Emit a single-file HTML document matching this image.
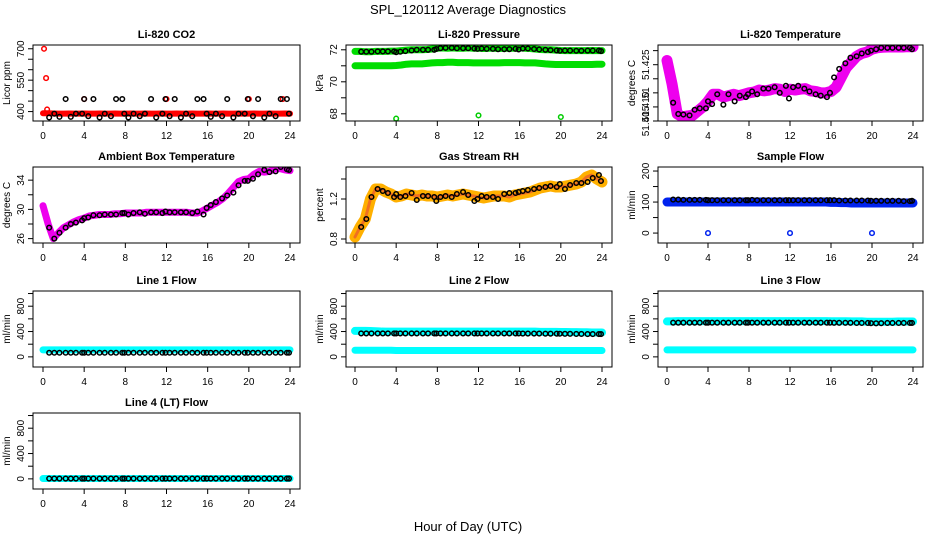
<!DOCTYPE html>
<html><head><meta charset="utf-8"><style>
html,body{margin:0;padding:0;background:#fff}
svg{display:block;font-family:"Liberation Sans",sans-serif}
</style></head><body>
<svg id="c" width="936" height="540" xmlns="http://www.w3.org/2000/svg">
<rect width="936" height="540" fill="#fff"/>
<text x="468" y="14" font-size="13" text-anchor="middle">SPL_120112  Average Diagnostics</text>
<text x="468" y="531" font-size="13" text-anchor="middle">Hour of Day (UTC)</text>
</svg>
<script>
// shared hour arrays
const bandHours=[0,0.5,1,1.5,2,2.5,3,3.5,4,4.5,5,5.5,6,6.5,7,7.5,8,8.5,9,9.5,10,10.5,11,11.5,12,12.5,13,13.5,14,14.5,15,15.5,16,16.5,17,17.5,18,18.5,19,19.5,20,20.5,21,21.5,22,22.5,23,23.5,24];
const blackHours=[0.6,1.1,1.6,2.2,2.7,3.2,3.8,4.0,4.4,4.9,5.5,6.0,6.6,7.1,7.7,7.9,8.3,8.8,9.4,9.9,10.5,11.0,11.6,11.9,12.3,12.8,13.4,13.9,14.5,15.0,15.6,15.9,16.3,16.8,17.4,17.9,18.5,19.0,19.6,19.9,20.4,20.9,21.5,22.0,22.6,23.1,23.7,23.9];
const xTicks=[0,4,8,12,16,20,24];

// CO2
const co2Band=[392,392,391,390,390,391,390,390,391,390,390,391,390,390,391,390,390,391,390,390,391,390,390,391,390,390,391,390,390,391,390,390,391,390,390,391,390,390,391,390,390,391,390,390,391,390,390,391,390];
const co2Black=[372,390,375,460,375,390,390,460,378,460,372,390,378,460,460,390,372,390,378,390,460,372,390,460,378,460,372,390,378,460,460,390,375,390,378,460,372,390,390,460,378,460,372,390,378,460,460,390];
const co2OutH=[0.1,0.3,0.4,4,12,20,23.3];
const co2OutV=[700,560,410,460,460,460,460];
// Pressure
const presUpper=[71.9,71.9,71.88,71.88,71.9,71.9,71.9,71.92,71.92,71.95,71.98,72.0,72.0,72.0,72.02,72.05,72.1,72.12,72.1,72.12,72.1,72.1,72.12,72.1,72.1,72.08,72.1,72.1,72.08,72.1,72.1,72.1,72.12,72.1,72.08,72.05,72.02,72.0,72.0,71.98,71.96,71.95,71.95,71.95,71.95,71.95,71.96,71.95,71.95];
const presLower=[71.0,71.0,71.0,71.0,71.0,71.0,71.0,71.0,71.02,71.05,71.1,71.12,71.12,71.12,71.15,71.18,71.2,71.2,71.22,71.22,71.2,71.2,71.2,71.18,71.18,71.18,71.18,71.18,71.18,71.2,71.2,71.2,71.2,71.18,71.18,71.18,71.15,71.12,71.1,71.08,71.08,71.08,71.08,71.08,71.08,71.08,71.08,71.1,71.1];
const presBlack=[71.88,71.88,71.88,71.9,71.9,71.9,71.9,71.85,71.88,71.92,71.96,72.0,72.0,72.0,72.0,72.05,72.1,72.12,72.12,72.1,72.1,72.1,72.08,72.06,72.08,72.06,72.06,72.04,72.04,72.04,72.06,72.02,72.08,72.08,72.05,72.02,72.0,71.98,71.96,71.94,71.95,71.95,71.94,71.94,71.95,71.95,71.95,71.92];
const presOutH=[4,12,20];
const presOutV=[67.7,67.9,67.8];
// Li-820 temperature
const tempBand=[51.4265,51.418,51.4075,51.4065,51.4068,51.407,51.4085,51.410,51.412,51.4145,51.4145,51.4135,51.414,51.4145,51.414,51.4145,51.415,51.4153,51.416,51.4157,51.416,51.4165,51.4163,51.4155,51.4163,51.416,51.4163,51.4165,51.4157,51.4155,51.415,51.415,51.4155,51.417,51.4205,51.424,51.426,51.428,51.429,51.4295,51.4305,51.431,51.4312,51.4313,51.4313,51.4313,51.4313,51.4314,51.4314];
const tempBlack=[51.4115,51.4075,51.4073,51.407,51.409,51.4095,51.4095,51.412,51.411,51.4145,51.4108,51.4145,51.412,51.414,51.4135,51.4145,51.4155,51.4145,51.4165,51.4165,51.417,51.415,51.4175,51.413,51.417,51.4175,51.4165,51.4155,51.4145,51.414,51.4135,51.415,51.4205,51.4235,51.4255,51.4275,51.428,51.429,51.4295,51.43,51.4305,51.431,51.431,51.431,51.431,51.431,51.431,51.4305];
// Ambient box temperature
const ambBand=[30.5,28,26,26.8,27.5,27.9,28.3,28.6,28.8,29.1,29.2,29.3,29.3,29.3,29.4,29.4,29.5,29.5,29.5,29.5,29.6,29.6,29.6,29.6,29.6,29.6,29.6,29.6,29.6,29.5,29.5,29.8,30.2,30.6,31,31.5,32.2,33,33.8,34.1,34.2,34.8,35.2,35.1,35.2,35.5,35.6,35.4,35.3];
const ambBlack=[27.5,26,26.8,27.5,28,28.2,28.5,28.8,28.9,29.2,29.2,29.3,29.3,29.3,29.5,29.5,29.3,29.5,29.6,29.4,29.6,29.6,29.5,29.7,29.6,29.6,29.6,29.6,29.5,29.7,29.3,30.2,30.6,31,31.5,31.9,32.3,33.3,33.9,33.9,34.2,34.8,35.4,35.1,35.2,35.8,35.5,35.4];
// Gas stream RH
const rhBand=[0.82,0.92,1.0,1.2,1.3,1.3,1.27,1.25,1.22,1.23,1.25,1.24,1.23,1.24,1.23,1.23,1.22,1.23,1.24,1.23,1.24,1.25,1.24,1.23,1.22,1.21,1.22,1.23,1.23,1.23,1.22,1.24,1.25,1.26,1.27,1.29,1.31,1.32,1.33,1.32,1.32,1.33,1.34,1.35,1.37,1.42,1.44,1.4,1.37];
const rhBlack=[0.92,1.0,1.22,1.3,1.28,1.26,1.22,1.25,1.22,1.23,1.26,1.19,1.23,1.23,1.22,1.18,1.22,1.23,1.22,1.25,1.27,1.24,1.18,1.2,1.23,1.22,1.22,1.2,1.25,1.26,1.26,1.27,1.28,1.29,1.3,1.31,1.32,1.33,1.32,1.35,1.3,1.34,1.36,1.36,1.37,1.41,1.44,1.38];
// Sample flow
const sfBand=[100,100,100,100,100,100,100,100,100,100,100,100,100,100,100,100,100,100,100,100,100,100,100,100,100,100,100,100,100,100,100,100,99,99,98,98,97,97,97,97,97,97,97,97,97,97,97,97,97];
const sfBlack=[108,108,107,107,107,107,107,106,106,106,106,106,106,106,106,106,107,106,106,106,106,106,106,106,106,106,106,106,106,106,106,106,106,105,105,105,105,105,105,104,104,104,104,104,104,103,103,104];
const sfOutH=[4,12,20];
const sfOutV=[0,0,0];
// Line flows
const l1Band=[110,110,110,110,110,110,110,110,110,110,110,110,110,110,110,110,110,110,110,110,110,110,110,110,110,110,110,110,110,110,110,110,110,110,110,110,110,110,110,110,110,110,110,110,110,110,110,110,110];
const l1Black=[65,65,65,65,65,65,65,65,65,65,65,65,65,65,65,65,65,65,65,65,65,65,65,65,65,65,65,65,65,65,65,65,65,65,65,65,65,65,65,65,65,65,65,65,65,65,65,65];
const l2Upper=[410,410,410,408,405,400,398,398,398,398,398,398,398,398,398,398,398,398,398,398,398,398,398,398,398,398,398,398,398,398,398,398,398,398,398,398,395,395,395,395,392,392,390,390,388,388,385,385,385];
const l2Lower=[105,105,105,105,105,105,105,105,100,100,100,100,100,100,100,100,100,100,100,100,100,100,100,100,100,100,100,100,100,100,100,100,100,100,100,100,100,100,100,100,100,100,100,100,100,100,100,100,100];
const l2Black=[370,370,370,370,370,370,370,370,370,370,370,370,370,370,370,370,370,370,370,370,370,370,370,370,370,370,370,370,370,370,370,370,368,368,368,368,366,366,366,365,364,364,362,362,360,360,360,360];
const l3Upper=[560,560,565,565,565,565,565,565,565,565,565,565,565,565,565,565,565,565,565,565,565,565,565,565,565,565,565,565,565,565,565,565,562,562,562,562,560,560,560,555,555,555,555,555,555,558,558,558,558];
const l3Lower=[110,110,110,110,110,110,110,110,110,110,110,110,110,110,110,110,110,110,110,110,110,110,110,110,110,110,110,110,110,110,110,110,110,110,110,110,110,110,110,110,110,110,110,110,110,110,110,110,110];
const l3Black=[540,540,540,540,540,540,540,540,540,540,540,540,540,540,540,540,540,540,540,540,540,540,540,540,540,540,540,540,540,540,540,540,538,538,538,538,535,535,535,532,530,532,535,535,535,535,535,535];
const l4Band=[5,5,5,5,5,5,5,5,5,5,5,5,5,5,5,5,5,5,5,5,5,5,5,5,5,5,5,5,5,5,5,5,5,5,5,5,5,5,5,5,5,5,5,5,5,5,5,5,5];
const l4Black=[5,5,5,5,5,5,5,5,5,5,5,5,5,5,5,5,5,5,5,5,5,5,5,5,5,5,5,5,5,5,5,5,5,5,5,5,5,5,5,5,5,5,5,5,5,5,5,5];

const NS="http://www.w3.org/2000/svg";
const svg=document.getElementById('c');
function mk(tag,attrs,parent){const e=document.createElementNS(NS,tag);for(const k in attrs)e.setAttribute(k,attrs[k]);(parent||svg).appendChild(e);return e;}

const cols=[{bl:33,br:300,x0:43,x24:290},{bl:346,br:612,x0:355,x24:602},{bl:658,br:923,x0:667,x24:913}];
const rows=[{t:45,b:121},{t:167,b:243},{t:291,b:367},{t:413,b:489}];

function panel(name,title,ylab,r,c,ymin,ymax,yticks,ylabels,yfmt,draw){
  const R=rows[r],C=cols[c];
  const g=mk('g',{});
  
  
  const sx=h=>C.x0+(C.x24-C.x0)*h/24;
  const sy=v=>R.b-(v-ymin)/(ymax-ymin)*(R.b-R.t);
  const clip=mk('clipPath',{id:'cl'+name},g);
  mk('rect',{x:C.bl,y:R.t,width:C.br-C.bl,height:R.b-R.t},clip);
  const plot=mk('g',{'clip-path':'url(#cl'+name+')'},g);
  
  
  draw(plot,sx,sy);
  const box=mk('rect',{x:C.bl,y:R.t,width:C.br-C.bl,height:R.b-R.t,fill:'none',stroke:'#000','stroke-width':1},g);
  
  
  const t=mk('text',{x:(C.bl+C.br)/2,y:R.t-7,'font-size':11,'font-weight':'bold','text-anchor':'middle'},g);
  t.textContent=title;
  
  
  xTicks.forEach(h=>{
    mk('line',{x1:sx(h),x2:sx(h),y1:R.b,y2:R.b+5,stroke:'#000'},g);
    const tl=mk('text',{x:sx(h),y:R.b+18,'font-size':10,'text-anchor':'middle'},g);
    tl.textContent=h;
    
    
  });
  yticks.forEach(v=>{mk('line',{x1:C.bl,x2:C.bl-5,y1:sy(v),y2:sy(v),stroke:'#000'},g);});
  ylabels.forEach(v=>{
    const y=sy(v),x=C.bl-9;
    const tl=mk('text',{x:x,y:y,'font-size':10,'text-anchor':'middle',transform:'rotate(-90 '+x+' '+y+')'},g);
    tl.textContent=yfmt(v);
    
    
  });
  const yx=C.bl-23,yy=(R.t+R.b)/2;
  const yl=mk('text',{x:yx,y:yy,'font-size':10,'text-anchor':'middle',transform:'rotate(-90 '+yx+' '+yy+')'},g);
  yl.textContent=ylab;
  
  
}
function band(p,sx,sy,vals,color,w,nm){
  const pts=bandHours.map((h,i)=>sx(h)+','+sy(vals[i])).join(' ');
  const pl=mk('polyline',{points:pts,fill:'none',stroke:color,'stroke-width':w,'stroke-linejoin':'round','stroke-linecap':'round'},p);
  
  
}
function dots(p,sx,sy,hs,vals,color,nm){
  hs.forEach((h,i)=>{
    const c=mk('circle',{cx:sx(h),cy:sy(vals[i]),r:2.3,fill:'none',stroke:color,'stroke-width':1.5},p);
    
    
  });
}
const id=v=>String(v);
panel('co2-panel','Li-820 CO2','Licor ppm',0,0,355,718,[400,450,500,550,600,650,700],[400,550,700],id,(p,sx,sy)=>{
  band(p,sx,sy,co2Band,'#ff0000',6,'co2-red-band');
  dots(p,sx,sy,co2OutH,co2OutV,'#ff0000','co2-outlier');
  dots(p,sx,sy,blackHours,co2Black,'#000','co2-black-point');
});
panel('pressure-panel','Li-820 Pressure','kPa',0,1,67.55,72.3,[68,69,70,71,72],[68,70,72],id,(p,sx,sy)=>{
  band(p,sx,sy,presUpper,'#00dd00',7,'pressure-upper-band');
  band(p,sx,sy,presLower,'#00dd00',7,'pressure-lower-band');
  dots(p,sx,sy,presOutH,presOutV,'#00cc00','pressure-outlier');
  dots(p,sx,sy,blackHours,presBlack,'#000','pressure-black-point');
});
panel('temperature-panel','Li-820 Temperature','degrees C',0,2,51.405,51.432,[51.405,51.410,51.415,51.420,51.425,51.430],[51.405,51.410,51.415,51.425],v=>v===51.415?'51':v.toFixed(3),(p,sx,sy)=>{
  band(p,sx,sy,tempBand,'#ee00ee',11,'temperature-band');
  dots(p,sx,sy,blackHours,tempBlack,'#000','temperature-black-point');
});
panel('ambient-panel','Ambient Box Temperature','degrees C',1,0,25.4,35.8,[26,28,30,32,34],[26,30,34],id,(p,sx,sy)=>{
  band(p,sx,sy,ambBand,'#ee00ee',7,'ambient-band');
  dots(p,sx,sy,blackHours,ambBlack,'#000','ambient-black-point');
});
panel('rh-panel','Gas Stream RH','percent',1,1,0.76,1.52,[0.8,1.0,1.2,1.4],[0.8,1.2],v=>v.toFixed(1),(p,sx,sy)=>{
  band(p,sx,sy,rhBand,'#ffb000',11,'rh-band');
  band(p,sx,sy,rhBand,'#f07020',3,'rh-band-core');
  dots(p,sx,sy,blackHours,rhBlack,'#000','rh-black-point');
});
panel('sample-flow-panel','Sample Flow','ml/min',1,2,-32,213,[0,50,100,150,200],[0,100,200],id,(p,sx,sy)=>{
  band(p,sx,sy,sfBand,'#0022ee',9,'sample-flow-band');
  dots(p,sx,sy,sfOutH,sfOutV,'#0022ee','sample-flow-outlier');
  dots(p,sx,sy,blackHours,sfBlack,'#000','sample-flow-black-point');
});
const flowTicks=[0,200,400,600,800,1000],flowLabels=[0,400,800];
panel('line1-panel','Line 1 Flow','ml/min',2,0,-160,1040,flowTicks,flowLabels,id,(p,sx,sy)=>{
  band(p,sx,sy,l1Band,'#00ffff',7,'line1-band');
  dots(p,sx,sy,blackHours,l1Black,'#000','line1-black-point');
});
panel('line2-panel','Line 2 Flow','ml/min',2,1,-160,1040,flowTicks,flowLabels,id,(p,sx,sy)=>{
  band(p,sx,sy,l2Upper,'#00ffff',8,'line2-upper-band');
  band(p,sx,sy,l2Lower,'#00ffff',7,'line2-lower-band');
  dots(p,sx,sy,blackHours,l2Black,'#000','line2-black-point');
});
panel('line3-panel','Line 3 Flow','ml/min',2,2,-160,1040,flowTicks,flowLabels,id,(p,sx,sy)=>{
  band(p,sx,sy,l3Upper,'#00ffff',8,'line3-upper-band');
  band(p,sx,sy,l3Lower,'#00ffff',7,'line3-lower-band');
  dots(p,sx,sy,blackHours,l3Black,'#000','line3-black-point');
});
panel('line4-panel','Line 4 (LT) Flow','ml/min',3,0,-160,1040,flowTicks,flowLabels,id,(p,sx,sy)=>{
  band(p,sx,sy,l4Band,'#00ffff',7,'line4-band');
  dots(p,sx,sy,blackHours,l4Black,'#000','line4-black-point');
});
</script>
</body></html>
